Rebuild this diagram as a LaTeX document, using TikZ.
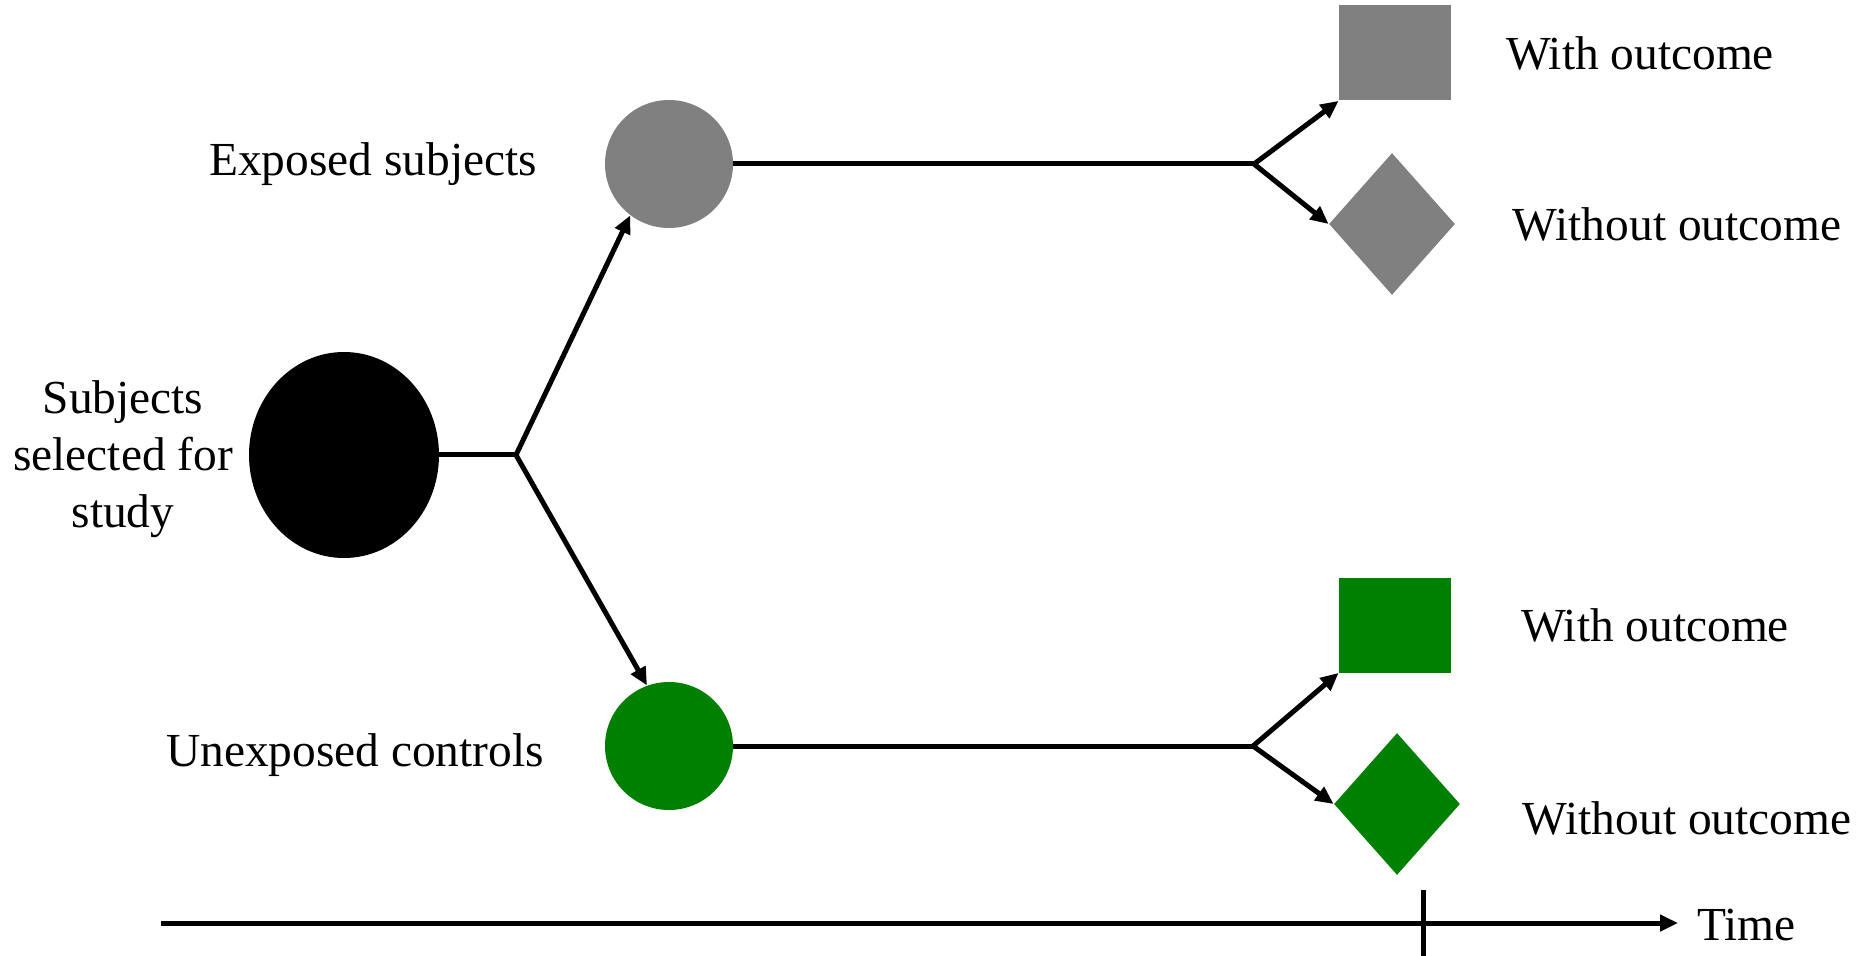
\documentclass[tikz,border=0pt]{standalone}
\usepackage{fontspec}
\setmainfont{Liberation Serif}
\usetikzlibrary{arrows.meta,shapes.geometric}
\definecolor{grayfill}{RGB}{128,128,128}
\definecolor{greenfill}{RGB}{0,128,0}
\begin{document}
\begin{tikzpicture}[x=0.5pt,y=-0.5pt,
  conn/.style={line width=2.5pt},
  arr/.style={line width=2.5pt,-{Triangle[length=9pt,width=8pt]}},
  lbl/.style={font=\fontsize{23.7}{28.5}\selectfont,inner sep=0pt,align=center},
  circ/.style={circle,draw=none,inner sep=0pt,minimum size=64pt},
  sq/.style={rectangle,draw=none,inner sep=0pt,minimum width=56pt,minimum height=47.5pt},
  dia/.style={diamond,draw=none,inner sep=0pt,minimum width=63pt,minimum height=71pt}]
\useasboundingbox (0,0) rectangle (1866,956);
% main nodes
\node[ellipse,fill=black,inner sep=0pt,minimum width=95pt,minimum height=103pt] (sel) at (344,455) {};
\node[circ,fill=grayfill] (exp) at (669,164) {};
\node[circ,fill=greenfill] (unexp) at (669,746) {};
\coordinate (j0) at (516,455);
\coordinate (j1) at (1254,164);
\coordinate (j2) at (1253,746);
\node[sq,fill=grayfill] (sqg) at (1395,53) {};
\node[dia,fill=grayfill] (dg) at (1392,224) {};
\node[sq,fill=greenfill] (sqgr) at (1395,625) {};
\node[dia,fill=greenfill] (dgr) at (1397,804) {};
% labels
\node[lbl] (tsel) at (123,459) {Subjects\\selected for\\study};
\node[lbl] (texp) at (373,164) {Exposed subjects};
\node[lbl] (tunexp) at (355,755) {Unexposed controls};
\node[lbl] (t1) at (1640,53) {With outcome};
\node[lbl] (t2) at (1677,224) {Without outcome};
\node[lbl] (t3) at (1655,625) {With outcome};
\node[lbl] (t4) at (1687,818) {Without outcome};
% connectors
\draw[conn] (sel.east) -- (j0);
\draw[arr] (j0) -- (exp.233);
\draw[arr] (j0) -- (unexp.110);
\draw[conn] (exp.east) -- (j1);
\draw[conn] (unexp.east) -- (j2);
\draw[arr] (j1) -- (sqg.south west);
\draw[arr] (j1) -- (dg.west);
\draw[arr] (j2) -- (sqgr.south west);
\draw[arr] (j2) -- (dgr.west);
% time axis
\coordinate (ta) at (161,923);
\coordinate (tb) at (1678,923);
\coordinate (tk1) at (1423,890);
\coordinate (tk2) at (1423,956);
\draw[arr] (ta) -- (tb);
\draw[conn] (tk1) -- (tk2);
\node[lbl,anchor=west] (ttime) at (1697,925) {Time};
\end{tikzpicture}
\end{document}
